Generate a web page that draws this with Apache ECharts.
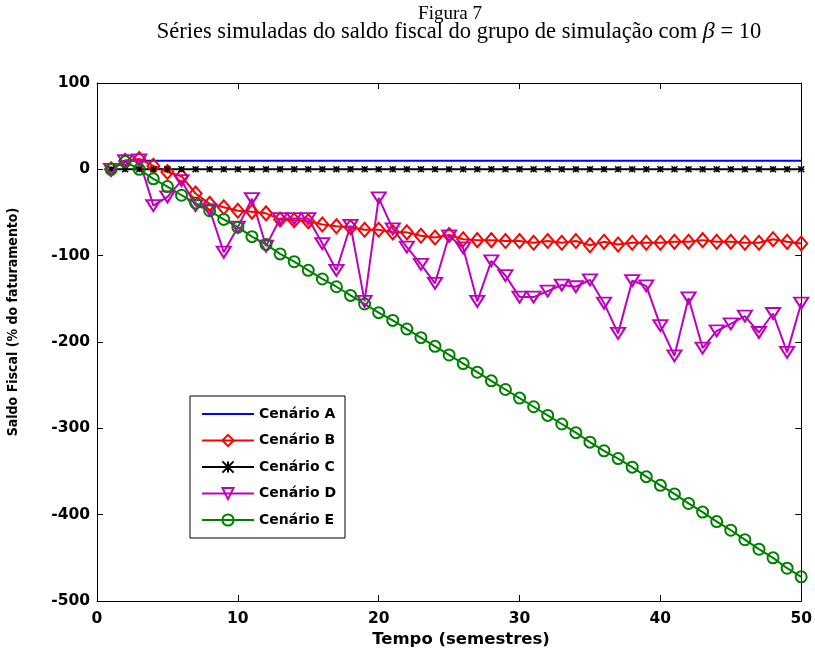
<!DOCTYPE html>
<html>
<head>
<meta charset="utf-8">
<script src="https://cdn.jsdelivr.net/npm/echarts@6/dist/echarts.min.js"></script>
<style>
  html, body { margin: 0; padding: 0; background: #fff; }
  #saldo { width: 815px; height: 650px; }
</style>
</head>
<body>
<div id="saldo"></div>
<script>
// tempo (semestres)
const tempo = [1, 2, 3, 4, 5, 6, 7, 8, 9, 10, 11, 12, 13, 14, 15, 16, 17, 18, 19, 20,
  21, 22, 23, 24, 25, 26, 27, 28, 29, 30, 31, 32, 33, 34, 35, 36, 37, 38, 39, 40,
  41, 42, 43, 44, 45, 46, 47, 48, 49, 50];

const cenarioA = [0, 10, 10, 10, 10, 10, 10, 10, 10, 10, 10, 10, 10, 10, 10, 10, 10, 10, 10, 10,
  10, 10, 10, 10, 10, 10, 10, 10, 10, 10, 10, 10, 10, 10, 10, 10, 10, 10, 10, 10,
  10, 10, 10, 10, 10, 10, 10, 10, 10, 10];
const cenarioB = [0, 10, 12, 4, -3, -8, -28, -40, -44, -48, -49, -51, -58, -59, -60, -64, -66, -67, -70, -70,
  -73, -73, -77, -79, -76, -81, -82, -82, -83, -83, -85, -83, -85, -83, -88, -84, -87, -85, -85, -85,
  -84, -84, -82, -84, -84, -85, -85, -81, -84, -86];
const cenarioC = [0, 0, 0, 0, 0, 0, 0, 0, 0, 0, 0, 0, 0, 0, 0, 0, 0, 0, 0, 0,
  0, 0, 0, 0, 0, 0, 0, 0, 0, 0, 0, 0, 0, 0, 0, 0, 0, 0, 0, 0,
  0, 0, 0, 0, 0, 0, 0, 0, 0, 0];
const cenarioD = [0, 10, 11, -42, -32, -13, -42, -47, -96, -67, -34, -89, -57, -57, -57, -86, -117, -65, -153, -33,
  -69, -90, -110, -132, -77, -91, -153, -106, -123, -148, -148, -141, -134, -136, -128, -155, -190, -129, -135, -181,
  -216, -149, -207, -187, -179, -170, -189, -167, -212, -155];
const cenarioE = [0, 9, 0, -11, -20, -30, -39, -48, -58, -67, -78, -87, -98, -107, -117, -127, -136, -146, -156, -166,
  -175, -185, -195, -205, -215, -225, -235, -245, -255, -265, -275, -285, -295, -305, -316, -326, -335, -345, -356, -366,
  -376, -387, -397, -408, -418, -429, -440, -450, -462, -472];

const xTicks = { min: 0, max: 50, interval: 10 };
const yTicks = { min: -500, max: 100, interval: 100 };

const pares = ys => tempo.map((t, i) => [t, ys[i]]);

const tickFont = { fontFamily: 'DejaVu Sans', fontWeight: 'bold', fontSize: 15.5, color: '#000' };
const asterisco = 'path://M0,0L10,10M10,0L0,10M5,0L5,10M0,5L10,5';
const invisivel = 'rgba(255,255,255,0)';

function linha(nome, ys, cor, simbolo, tam, extra) {
  return Object.assign({
    name: nome,
    type: 'line',
    xAxisIndex: 0,
    yAxisIndex: 0,
    data: pares(ys),
    symbol: simbolo,
    symbolSize: tam,
    showSymbol: simbolo !== 'none',
    animation: false,
    lineStyle: { color: cor, width: 2 },
    itemStyle: { color: invisivel, borderColor: cor, borderWidth: 2 },
    emphasis: { disabled: true }
  }, extra || {});
}

const eixoX = {
  axisLine: { show: true, onZero: false, lineStyle: { color: '#000', width: 1 } },
  axisTick: { inside: true, length: 6, lineStyle: { color: '#000' } },
  splitLine: { show: false }
};

const myChart = echarts.init(document.getElementById('saldo'));
myChart.setOption({
  animation: false,
  graphic: [
    {
      type: 'text', x: 450, y: 5,
      style: { text: 'Figura 7', textAlign: 'center', font: '19px "Liberation Serif"', fill: '#000' }
    },
    {
      type: 'text', x: 459, y: 20,
      style: {
        text: 'Séries simuladas do saldo fiscal do grupo de simulação com {b|β} = 10',
        textAlign: 'center',
        font: '22.5px "Liberation Serif"', fill: '#000',
        rich: { b: { fontFamily: 'Liberation Serif', fontStyle: 'italic', fontSize: 24 } }
      }
    },
    {
      type: 'text', x: 461, y: 640,
      style: {
        text: 'Tempo (semestres)', textAlign: 'center', textVerticalAlign: 'middle',
        font: 'bold 16.5px "DejaVu Sans"', fill: '#000'
      }
    },
    {
      type: 'text', x: 13, y: 322, rotation: Math.PI / 2,
      style: {
        text: 'Saldo Fiscal (% do faturamento)', textAlign: 'center', textVerticalAlign: 'middle',
        font: 'bold 14px "DejaVu Sans Condensed", "Liberation Sans Narrow", "DejaVu Sans"', fill: '#000'
      }
    }
  ],
  grid: { left: 97, right: 13, top: 83, bottom: 49, containLabel: false },
  legend: {
    orient: 'vertical',
    left: 190,
    top: 396,
    padding: [11, 9, 11, 11],
    itemWidth: 52,
    itemHeight: 14,
    itemGap: 12.5,
    backgroundColor: '#fff',
    borderColor: '#000',
    borderWidth: 1,
    selectedMode: false,
    textStyle: { fontFamily: 'DejaVu Sans', fontWeight: 'bold', fontSize: 14, color: '#000' },
    data: ['Cenário A', 'Cenário B', 'Cenário C', 'Cenário D', 'Cenário E']
  },
  xAxis: [
    Object.assign({
      type: 'value', min: xTicks.min, max: xTicks.max, interval: xTicks.interval,
      axisLabel: Object.assign({ margin: 10 }, tickFont)
    }, eixoX),
    Object.assign({
      type: 'value', position: 'top', min: xTicks.min, max: xTicks.max, interval: xTicks.interval,
      axisLabel: { show: false }
    }, eixoX)
  ],
  yAxis: [
    Object.assign({
      type: 'value', min: yTicks.min, max: yTicks.max, interval: yTicks.interval,
      axisLabel: Object.assign({ margin: 7 }, tickFont)
    }, eixoX),
    Object.assign({
      type: 'value', position: 'right', min: yTicks.min, max: yTicks.max, interval: yTicks.interval,
      axisLabel: { show: false }
    }, eixoX)
  ],
  series: [
    linha('Cenário A', cenarioA, '#0000ff', 'none', 0, {
      itemStyle: { color: invisivel, borderColor: invisivel, borderWidth: 0 }
    }),
    linha('Cenário B', cenarioB, '#ff0000', 'diamond', [12, 14]),
    linha('Cenário C', cenarioC, '#000000', asterisco, 6, { itemStyle: { color: '#000', borderColor: '#000', borderWidth: 1.5 } }),
    linha('Cenário D', cenarioD, '#bf00bf', 'triangle', [14, 11], { symbolRotate: 180 }),
    linha('Cenário E', cenarioE, '#008000', 'circle', 11)
  ]
});
</script>
</body>
</html>
